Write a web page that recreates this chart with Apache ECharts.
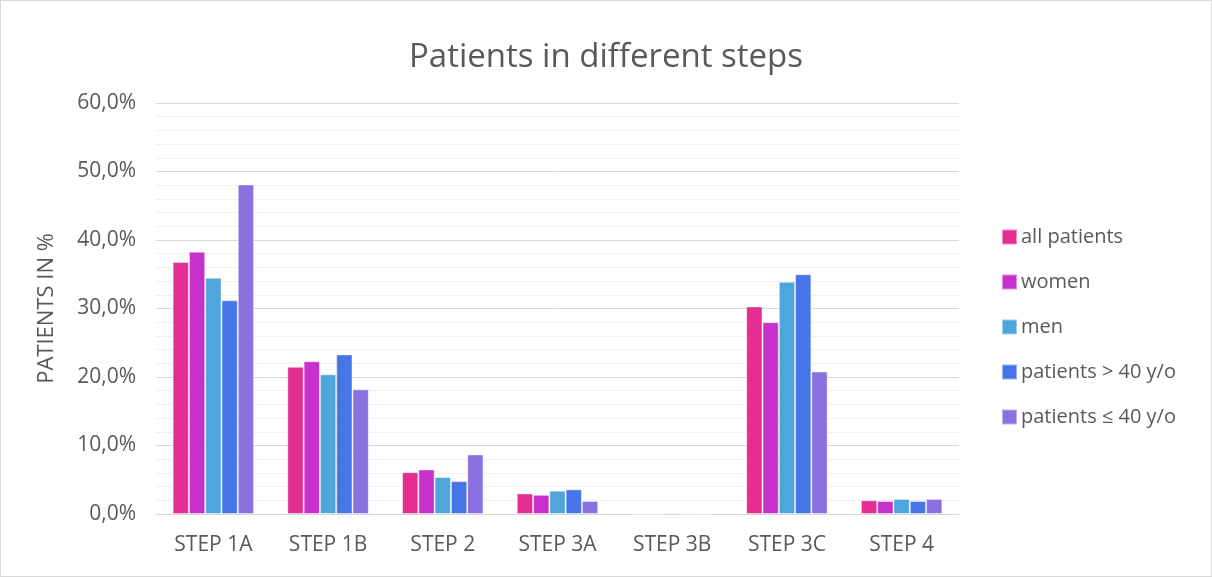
<!DOCTYPE html>
<html>
<head>
<meta charset="utf-8">
<script src="https://cdn.jsdelivr.net/npm/echarts@6/dist/echarts.min.js"></script>
<style>
  html, body { margin: 0; padding: 0; background: #fff; }
  #chart { width: 1210px; height: 575px; border: 1px solid #d9d9d9; }
</style>
</head>
<body>
<div id="chart"></div>
<script>
// Share of patients (%) per treatment step, by group
const categories = ['STEP 1A', 'STEP 1B', 'STEP 2', 'STEP 3A', 'STEP 3B', 'STEP 3C', 'STEP 4'];
const allPatients = [36.8, 21.5, 6.1, 3.0, 0.0, 30.3, 2.0];
const women       = [38.3, 22.3, 6.5, 2.8, 0.0, 28.0, 1.9];
const men         = [34.5, 20.4, 5.4, 3.4, 0.2, 33.9, 2.2];
const over40      = [31.2, 23.3, 4.8, 3.6, 0.05, 35.0, 1.9];
const upTo40      = [48.1, 18.2, 8.7, 1.9, 0.0, 20.8, 2.2];
const seriesNames = ['all patients', 'women', 'men', 'patients > 40 y/o', 'patients \u2264 40 y/o'];
const seriesColors = ['#E32D91', '#C830CC', '#4EA6DC', '#4775E7', '#8971E1'];

const FONT = '"Open Sans", Lato, sans-serif';
const values = [allPatients, women, men, over40, upTo40];

const chart = echarts.init(document.getElementById('chart'));
chart.setOption({
  animation: false,
  title: {
    text: 'Patients in different steps',
    left: 'center',
    top: 35,
    itemGap: 0,
    textStyle: { fontFamily: FONT, fontSize: 33, fontWeight: 'normal', color: '#595959' }
  },
  legend: {
    orient: 'vertical',
    left: 995,
    top: 221,
    itemWidth: 15,
    itemHeight: 15,
    itemGap: 25,
    icon: 'rect',
    textStyle: { fontFamily: FONT, fontSize: 20, color: '#595959', padding: [0, 0, 0, -1] },
    data: seriesNames
  },
  grid: { left: 155, right: 252, top: 102, bottom: 62 },
  xAxis: {
    type: 'category',
    data: categories,
    axisTick: { show: false },
    axisLine: { lineStyle: { color: '#d9d9d9', width: 1 } },
    axisLabel: { fontFamily: FONT, fontSize: 21, color: '#595959', margin: 21 }
  },
  yAxis: {
    type: 'value',
    min: 0,
    max: 60,
    interval: 10,
    name: 'PATIENTS IN %',
    nameLocation: 'middle',
    nameGap: 98,
    nameTextStyle: { fontFamily: FONT, fontSize: 22, color: '#595959' },
    axisLine: { show: false },
    axisTick: { show: false },
    axisLabel: {
      fontFamily: FONT, fontSize: 21, color: '#595959', margin: 20,
      formatter: v => v.toFixed(1).replace('.', ',') + '%'
    },
    splitLine: { lineStyle: { color: '#d9d9d9', width: 1 } },
    minorTick: { show: false, splitNumber: 5 },
    minorSplitLine: { show: true, lineStyle: { color: '#f0f0f0', width: 1 } }
  },
  series: seriesNames.map((name, i) => ({
    name,
    type: 'bar',
    data: values[i],
    barGap: '0%',
    barCategoryGap: '29%',
    itemStyle: {
      color: seriesColors[i],
      borderColor: 'rgba(255,255,255,0.45)',
      borderWidth: 1
    }
  }))
});
</script>
</body>
</html>
